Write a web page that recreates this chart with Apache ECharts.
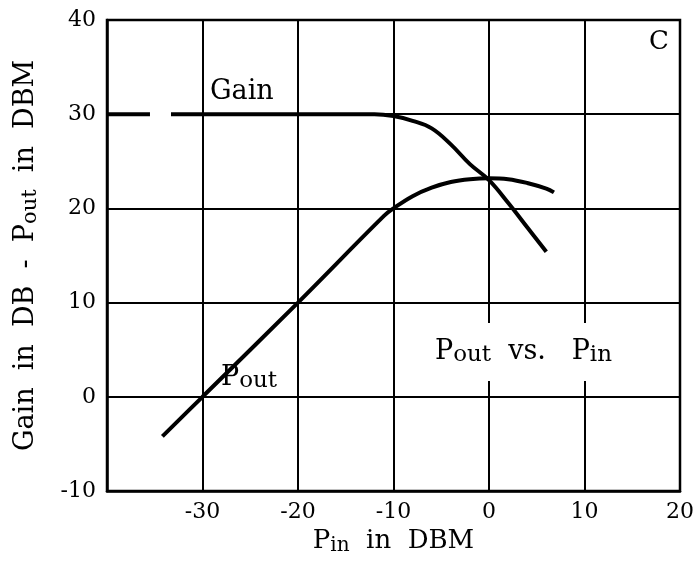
<!DOCTYPE html>
<html>
<head>
<meta charset="utf-8">
<script src="https://cdn.jsdelivr.net/npm/echarts@6/dist/echarts.min.js"></script>
<style>
  html, body { margin: 0; padding: 0; background: #fff; }
  #chart { width: 697px; height: 564px; }
</style>
</head>
<body>
<div id="chart"></div>
<script>
// values (x = Pin in DBM)
const xTicks = [-40, -30, -20, -10, 0, 10, 20]
const yTicks = [-10, 0, 10, 20, 30, 40]

const gainDashed = [[-40, 30], [-35.5, 30]]
const gainSolid = [
  [-33.3, 30], [-12, 30], [-10, 29.8], [-8, 29.3], [-6, 28.5], [-4, 26.8],
  [-2, 24.7], [0, 23], [2, 20.6], [4, 18], [6, 15.4]
]
const pout = [
  [-34.2, -4.2], [-30, 0], [-20, 10], [-11, 19.2], [-10, 20], [-8, 21.3],
  [-6, 22.2], [-4, 22.8], [-2, 23.1], [0, 23.2], [2, 23.1], [4, 22.7],
  [6, 22.1], [6.8, 21.7]
]
// the 30 grid line is only visible right of the gain knee
const grid30 = [[-12, 30], [20, 30]]

const serif = '"DejaVu Serif", "Liberation Serif", serif'

const sub = (size, big) => ({
  a: { fontFamily: serif, fontSize: big, color: '#000', fill: '#000', lineHeight: 30 },
  s: { fontFamily: serif, fontSize: size, color: '#000', fill: '#000', lineHeight: 14, verticalAlign: 'bottom' }
})

const chart = echarts.init(document.getElementById('chart'))

const option = {
  backgroundColor: '#fff',
  animation: false,
  grid: {
    left: 107,
    right: 14,
    top: 20,
    bottom: 73,
    show: true,
    borderColor: '#000',
    borderWidth: 2.5
  },
  xAxis: {
    type: 'value',
    min: xTicks[0],
    max: xTicks[xTicks.length - 1],
    interval: 10,
    axisLine: { show: true, onZero: false, lineStyle: { color: '#000', width: 2.5 } },
    axisTick: { show: false },
    splitLine: { show: true, lineStyle: { color: '#000', width: 2 } },
    axisLabel: {
      color: '#000',
      fontFamily: serif,
      fontSize: 22,
      margin: 10,
      formatter: v => (v === xTicks[0] ? '' : String(v))
    },
    name: '{a|P}{s|in}{a|  in  DBM}',
    nameLocation: 'middle',
    nameGap: 33,
    nameTextStyle: { rich: sub(20, 26) }
  },
  yAxis: {
    type: 'value',
    min: yTicks[0],
    max: yTicks[yTicks.length - 1],
    interval: 10,
    axisLine: { show: true, onZero: false, lineStyle: { color: '#000', width: 2.5 } },
    axisTick: { show: false },
    splitLine: {
      show: true,
      // hide the 30 line (index 4); its visible part is drawn as a markLine
      lineStyle: { color: ['#000', '#000', '#000', '#000', 'rgba(0,0,0,0)', '#000'], width: 2 }
    },
    axisLabel: {
      color: '#000',
      fontFamily: serif,
      fontSize: 22,
      margin: 11
    },
    name: '{a|Gain  in  DB  -  P}{s|out}{a|  in  DBM}',
    nameLocation: 'middle',
    nameGap: 66,
    nameTextStyle: { rich: sub(21, 27) }
  },
  series: [
    {
      name: 'Gain dashed',
      type: 'line',
      data: gainDashed,
      showSymbol: false,
      lineStyle: { color: '#000', width: 4 }
    },
    {
      name: 'Gain',
      type: 'line',
      data: gainSolid,
      smooth: 0.4,
      showSymbol: false,
      lineStyle: { color: '#000', width: 4 },
      markLine: {
        silent: true,
        symbol: 'none',
        label: { show: false },
        lineStyle: { color: '#000', width: 2, type: 'solid' },
        data: [[{ coord: grid30[0] }, { coord: grid30[1] }]]
      }
    },
    {
      name: 'Pout',
      type: 'line',
      data: pout,
      smooth: 0.4,
      showSymbol: false,
      lineStyle: { color: '#000', width: 4 }
    }
  ],
  graphic: [
    {
      type: 'text', left: 649, top: 29, z: 10,
      style: { text: 'C', font: '26px ' + serif, fill: '#000' }
    },
    {
      type: 'text', left: 210, top: 78, z: 10,
      style: { text: 'Gain', font: '27px ' + serif, fill: '#000' }
    },
    {
      type: 'text', left: 221, top: 364, z: 10,
      style: { text: '{a|P}{s|out}', rich: sub(23, 27) }
    },
    {
      type: 'text', left: 429, top: 323, z: 10,
      style: {
        text: '{a|P}{s|out}{a|  vs.   P}{s|in}',
        backgroundColor: '#fff',
        padding: [14, 6, 14, 6],
        rich: sub(23, 27)
      }
    }
  ]
}

chart.setOption(option)
</script>
</body>
</html>
